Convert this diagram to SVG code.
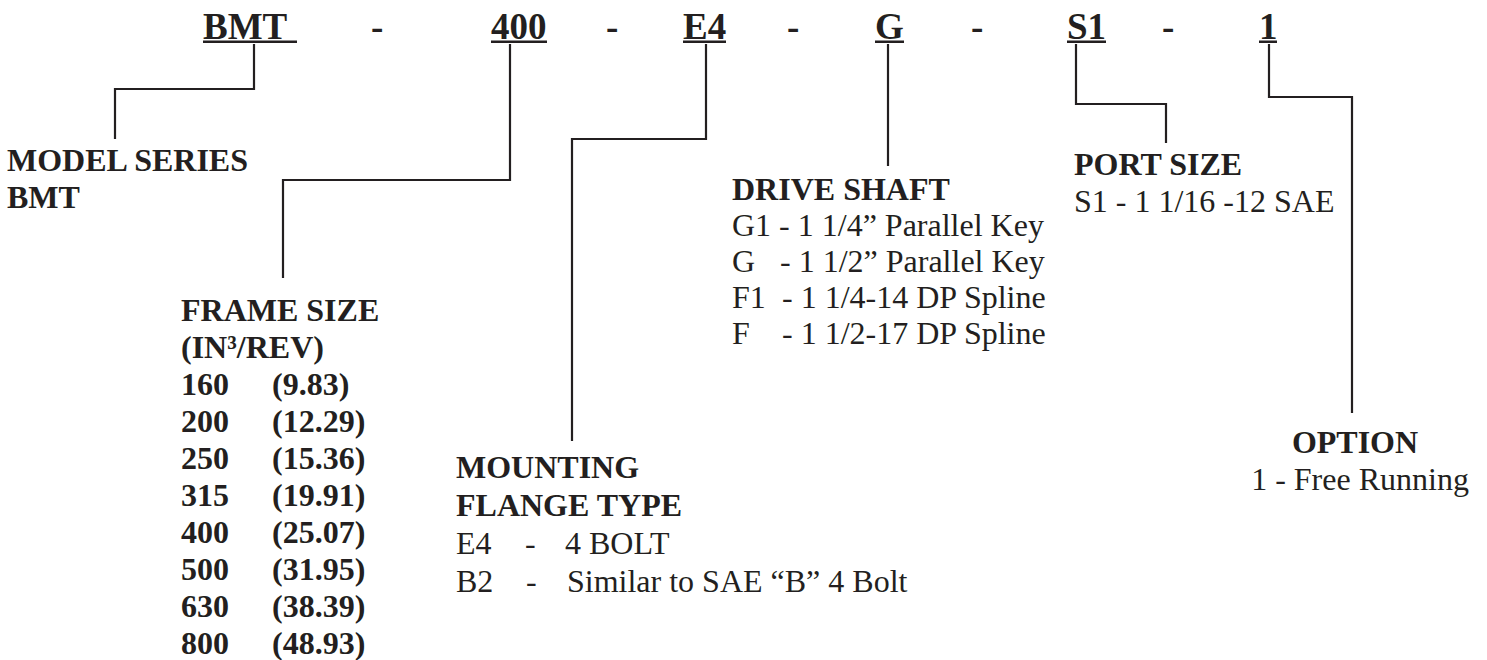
<svg xmlns="http://www.w3.org/2000/svg" width="1487" height="660" viewBox="0 0 1487 660">
<style>
text{font-family:"Liberation Serif","Times New Roman",serif;fill:#231f20}
.t{font-size:37px;font-weight:bold}
.h{font-size:32px;font-weight:bold}
.r{font-size:32px}
.u{fill:#231f20}
.c{fill:none;stroke:#231f20;stroke-width:2.2}
</style>
<rect width="1487" height="660" fill="#fff"/>
<g id="title">
<text class="t" x="203" y="39">BMT</text><rect class="u" x="203" y="40.5" width="94" height="2.5"/>
<text class="t" x="371" y="39">-</text>
<text class="t" x="491" y="39">400</text><rect class="u" x="491" y="40.5" width="56" height="2.5"/>
<text class="t" x="606" y="39">-</text>
<text class="t" x="683" y="39">E4</text><rect class="u" x="683" y="40.5" width="43" height="2.5"/>
<text class="t" x="787" y="39">-</text>
<text class="t" x="875" y="39">G</text><rect class="u" x="875" y="40.5" width="29" height="2.5"/>
<text class="t" x="971" y="39">-</text>
<text class="t" x="1067" y="39">S1</text><rect class="u" x="1067" y="40.5" width="39" height="2.5"/>
<text class="t" x="1162" y="39">-</text>
<text class="t" x="1259" y="39">1</text><rect class="u" x="1259" y="40.5" width="18" height="2.5"/>
</g>
<g id="connectors">
<path class="c" d="M254 44V89H115V139"/>
<path class="c" d="M510 44V180H283V278"/>
<path class="c" d="M706 44V139H572V441"/>
<path class="c" d="M888 44V166"/>
<path class="c" d="M1076 44V104H1166V143"/>
<path class="c" d="M1269 44V97H1352V413"/>
</g>
<g id="model-series">
<text class="h" x="7" y="171">MODEL SERIES</text>
<text class="h" x="7" y="208">BMT</text>
</g>
<g id="frame-size">
<text class="h" x="181" y="321">FRAME SIZE</text>
<text class="h" x="181" y="358">(IN³/REV)</text>
<text class="h" x="181" y="395">160</text><text class="h" x="272" y="395">(9.83)</text>
<text class="h" x="181" y="432">200</text><text class="h" x="272" y="432">(12.29)</text>
<text class="h" x="181" y="469">250</text><text class="h" x="272" y="469">(15.36)</text>
<text class="h" x="181" y="506">315</text><text class="h" x="272" y="506">(19.91)</text>
<text class="h" x="181" y="543">400</text><text class="h" x="272" y="543">(25.07)</text>
<text class="h" x="181" y="580">500</text><text class="h" x="272" y="580">(31.95)</text>
<text class="h" x="181" y="617">630</text><text class="h" x="272" y="617">(38.39)</text>
<text class="h" x="181" y="654">800</text><text class="h" x="272" y="654">(48.93)</text>
</g>
<g id="mounting-flange">
<text class="h" x="456" y="478">MOUNTING</text>
<text class="h" x="456" y="516">FLANGE TYPE</text>
<text class="r" x="456" y="554">E4</text><text class="r" x="525" y="554">-</text><text class="r" x="565" y="554">4 BOLT</text>
<text class="r" x="456" y="592">B2</text><text class="r" x="526" y="592">-</text><text class="r" x="567" y="592">Similar to SAE “B” 4 Bolt</text>
</g>
<g id="drive-shaft">
<text class="h" x="732" y="200">DRIVE SHAFT</text>
<text class="r" x="732" y="236">G1 - 1 1/4” Parallel Key</text>
<text class="r" x="732" y="272">G</text><text class="r" x="780" y="272">- 1 1/2” Parallel Key</text>
<text class="r" x="732" y="308">F1</text><text class="r" x="782" y="308">- 1 1/4-14 DP Spline</text>
<text class="r" x="732" y="344">F</text><text class="r" x="782" y="344">- 1 1/2-17 DP Spline</text>
</g>
<g id="port-size">
<text class="h" x="1074" y="175">PORT SIZE</text>
<text class="r" x="1074" y="212">S1 - 1 1/16 -12 SAE</text>
</g>
<g id="option">
<text class="h" x="1355" y="453" text-anchor="middle">OPTION</text>
<text class="r" x="1360" y="490" text-anchor="middle">1 - Free Running</text>
</g>
</svg>
